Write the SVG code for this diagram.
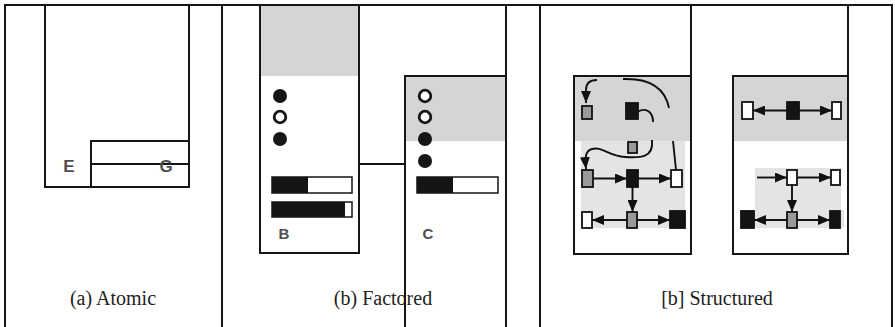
<svg xmlns="http://www.w3.org/2000/svg" width="895" height="327" viewBox="0 0 895 327">
<defs>
<style>
.ln{fill:none;stroke:#161616;stroke-width:2;stroke-linecap:square}
.box{fill:none;stroke:#161616;stroke-width:2}
.shade{fill:#d5d5d6}
.light{fill:#e4e4e4}
.cap{font-size:20px;fill:#222;text-anchor:middle}
.lbl{font-size:17px;font-weight:bold;fill:#4e4e4e;text-anchor:middle}
.nd{stroke:#111;stroke-width:1.8}
.w{fill:#fff}.g{fill:#9a9a9a}.k{fill:#141414}
.dot{fill:#161616}
.hol{fill:#fff;stroke:#161616;stroke-width:2.8}
.ar{fill:none;stroke:#111;stroke-width:1.9}
</style>
<marker id="ah" viewBox="0 0 12 10" refX="12" refY="5" markerWidth="12" markerHeight="10" markerUnits="userSpaceOnUse" orient="auto">
<path d="M0,0 L12,5 L0,10 Z" fill="#111"/>
</marker>
</defs>

<g id="frame">
<line class="ln" x1="5" y1="5" x2="892" y2="5"/>
<line class="ln" x1="5" y1="5" x2="5" y2="327"/>
<line class="ln" x1="222" y1="5" x2="222" y2="327"/>
<line class="ln" x1="506" y1="5" x2="506" y2="327"/>
<line class="ln" x1="540" y1="5" x2="540" y2="327"/>
<line class="ln" x1="892" y1="5" x2="892" y2="327"/>
<line class="ln" x1="691" y1="5" x2="691" y2="76"/>
<line class="ln" x1="848" y1="5" x2="848" y2="76"/>
</g>

<g id="atomic">
<path class="box" d="M45,5 V187 H189 V5"/>
<rect class="box" x="91" y="141" width="98" height="46"/>
<line class="ln" x1="91" y1="164" x2="189" y2="164"/>
<text class="lbl" font-family="'Liberation Sans', Arial, sans-serif" x="69" y="172">E</text>
<text class="lbl" font-family="'Liberation Sans', Arial, sans-serif" x="166" y="172">G</text>
<text class="cap" font-family="'Liberation Serif', 'Times New Roman', serif" x="113" y="305">(a) Atomic</text>
</g>

<text class="cap" font-family="'Liberation Serif', 'Times New Roman', serif" x="383" y="305">(b) Factored</text>

<g id="factored-B">
<rect class="shade" x="261" y="6" width="97" height="70"/>
<path class="box" d="M260,5 V253 H359 V5"/>
<circle class="dot" cx="280" cy="96" r="7"/>
<circle class="hol" cx="280" cy="117" r="5.8"/>
<circle class="dot" cx="280" cy="139" r="7"/>
<rect x="272" y="177" width="80" height="16" fill="#fff" stroke="#141414" stroke-width="1.5"/>
<rect x="272" y="177" width="36" height="16" fill="#141414"/>
<rect x="272" y="202" width="80" height="15" fill="#fff" stroke="#141414" stroke-width="1.5"/>
<rect x="272" y="202" width="73" height="15" fill="#141414"/>
<text class="lbl" font-family="'Liberation Sans', Arial, sans-serif" x="284" y="239" style="font-size:15px">B</text>
</g>

<g id="factored-C">
<rect class="shade" x="406" y="77" width="99" height="64"/>
<path class="box" d="M405,327 V76 H506"/>
<circle class="hol" cx="425" cy="96" r="5.8"/>
<circle class="hol" cx="425" cy="117" r="5.8"/>
<circle class="dot" cx="425" cy="139" r="7"/>
<circle class="dot" cx="425" cy="161" r="7"/>
<rect x="417" y="177" width="81" height="16" fill="#fff" stroke="#141414" stroke-width="1.5"/>
<rect x="417" y="177" width="36" height="16" fill="#141414"/>
<text class="lbl" font-family="'Liberation Sans', Arial, sans-serif" x="428" y="239" style="font-size:15px">C</text>
</g>

<g id="connectors">
<line class="ln" x1="359" y1="164" x2="405" y2="164"/>
</g>

<g id="structured-1">
<rect class="shade" x="575" y="77" width="115" height="64"/>
<rect class="light" x="581" y="141" width="104" height="87"/>
<rect class="box" x="574" y="76" width="117" height="178"/>
<path class="ar" d="M597,80 Q586,80 586,90 L586,103" marker-end="url(#ah)"/>
<path class="ar" d="M623,79 C650,78 665,88 669,108"/>
<path class="ar" d="M637,112 C648,106 653,114 653,122"/>
<path class="ar" d="M652,140 C654,158 640,158 625,157 C608,156 602,146 592,149 C585,151 585,158 586,169" marker-end="url(#ah)"/>
<line class="ar" x1="673" y1="141" x2="676" y2="170"/>
<line class="ar" x1="593" y1="178.5" x2="627" y2="178.5" marker-end="url(#ah)"/>
<line class="ar" x1="638" y1="178.5" x2="671" y2="178.5" marker-end="url(#ah)"/>
<line class="ar" x1="632.5" y1="187" x2="632.5" y2="212" marker-end="url(#ah)"/>
<line class="ar" x1="627" y1="220" x2="592" y2="220" marker-end="url(#ah)"/>
<line class="ar" x1="637" y1="220" x2="670" y2="220" marker-end="url(#ah)"/>
<rect class="nd g" x="582" y="106" width="10" height="13"/>
<rect class="nd k" x="626" y="103" width="12" height="16"/>
<rect class="nd g" x="628" y="142" width="9" height="11"/>
<rect class="nd g" x="582" y="170" width="11" height="17"/>
<rect class="nd k" x="627" y="170" width="11" height="17"/>
<rect class="nd w" x="671" y="170" width="11" height="17"/>
<rect class="nd w" x="582" y="212" width="10" height="16"/>
<rect class="nd g" x="627" y="212" width="10" height="16"/>
<rect class="nd k" x="670" y="211" width="15" height="17"/>
</g>

<g id="structured-2">
<rect class="shade" x="734" y="77" width="113" height="64"/>
<rect class="light" x="755" y="168" width="86" height="44"/>
<rect class="light" x="741" y="210" width="103" height="18"/>
<rect class="box" x="733" y="76" width="115" height="178"/>
<line class="ar" x1="787" y1="110.5" x2="753" y2="110.5" marker-end="url(#ah)"/>
<line class="ar" x1="799" y1="110.5" x2="832" y2="110.5" marker-end="url(#ah)"/>
<line class="ar" x1="757" y1="177.5" x2="787" y2="177.5" marker-end="url(#ah)"/>
<line class="ar" x1="797" y1="177.5" x2="831" y2="177.5" marker-end="url(#ah)"/>
<line class="ar" x1="792" y1="185" x2="792" y2="212" marker-end="url(#ah)"/>
<line class="ar" x1="787" y1="220" x2="754" y2="220" marker-end="url(#ah)"/>
<line class="ar" x1="797" y1="220" x2="830" y2="220" marker-end="url(#ah)"/>
<rect class="nd w" x="742" y="102" width="11" height="17"/>
<rect class="nd k" x="787" y="102" width="12" height="17"/>
<rect class="nd w" x="832" y="102" width="9" height="17"/>
<rect class="nd w" x="787" y="170" width="10" height="15"/>
<rect class="nd w" x="831" y="170" width="9" height="15"/>
<rect class="nd k" x="741" y="211" width="13" height="17"/>
<rect class="nd g" x="787" y="212" width="10" height="16"/>
<rect class="nd k" x="830" y="211" width="10" height="17"/>
</g>

<text class="cap" font-family="'Liberation Serif', 'Times New Roman', serif" x="717" y="305">[b] Structured</text>
</svg>
